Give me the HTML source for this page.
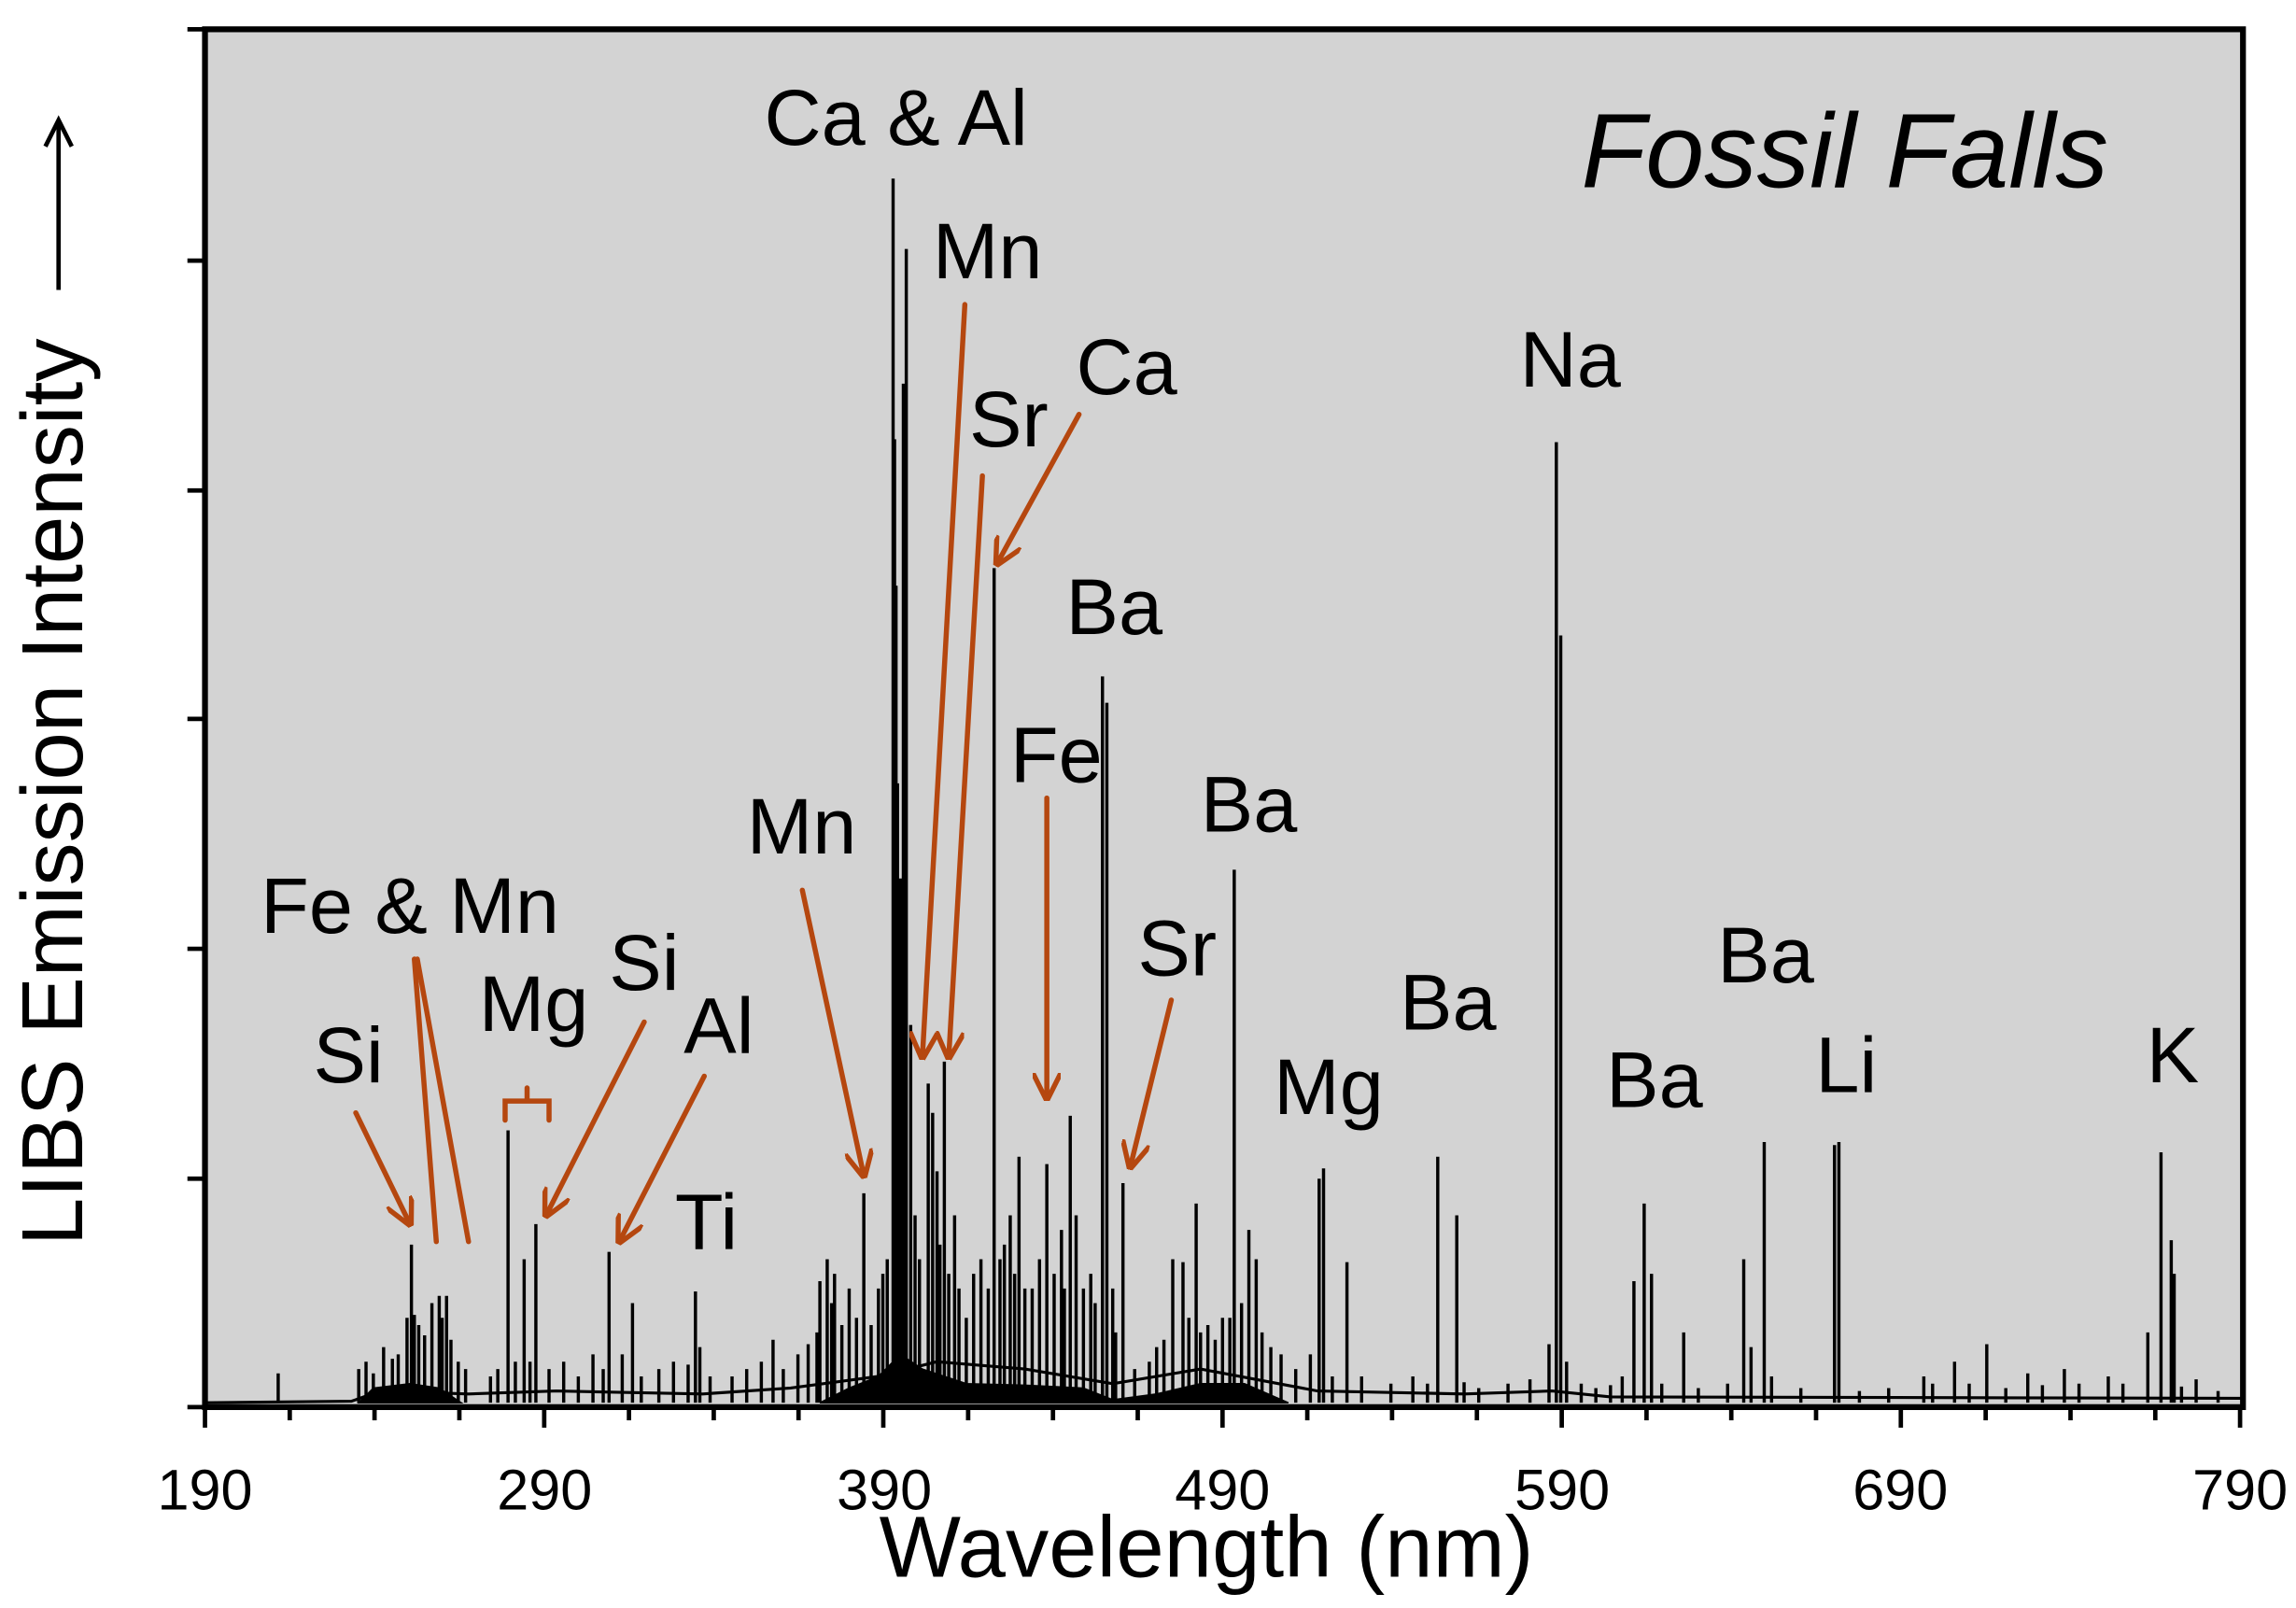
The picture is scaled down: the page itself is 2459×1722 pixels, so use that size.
<!DOCTYPE html>
<html><head><meta charset="utf-8"><style>
html,body{margin:0;padding:0;background:#fff;}
svg{display:block;}
text{font-family:"Liberation Sans",Arial,sans-serif;fill:#000;}
</style></head><body>
<svg width="2459" height="1722" viewBox="0 0 1568.2 1098.2" xmlns="http://www.w3.org/2000/svg">
<defs>
<marker id="ah" viewBox="0 0 10 10" refX="9" refY="5" markerWidth="5.5" markerHeight="5.5" orient="auto" markerUnits="strokeWidth">
<path d="M0,0 L10,5 L0,10" fill="none" stroke="#b5470f" stroke-width="1.8"/>
</marker>
</defs>
<rect x="140" y="20" width="1392" height="941" fill="#d3d3d3"/>
<path fill="#000" stroke="#000" stroke-width="1" d="M245,958 L255,948 L280,945 L300,948 L315,958 Z M560,958 L580,948 L600,940 L615,925 L630,935 L660,945 L700,946 L740,948 L760,956 L790,952 L820,945 L850,945 L880,958 Z"/>
<path fill="none" stroke="#000" stroke-width="2" d="M140,958 L240,957 L260,950 L320,952 L380,950 L480,952 L540,948 L600,940 L640,930 L700,935 L760,945 L820,935 L900,950 L1000,952 L1060,950 L1100,954 L1531,955"/>
<path fill="none" stroke="#000" stroke-width="2.2" d="
M190,958V938 M281,958V850 M283,958V898 M295,958V890 M300,958V885 M305,958V885 M347,958V772 M358,958V860 M366,958V836 M416,958V855 M432,958V890 M475,958V882
M560,958V875 M565,958V860 M590,958V815 M570,958V870 M610,958V122 M611,958V300 M612,958V400 M613,958V535 M615,958V600 M617,958V262 M619,958V170 M622,958V700
M634,958V740 M637,958V760 M640,958V800 M645,958V725 M652,958V830 M679,958V388 M683,958V860 M690,958V830 M696,958V790 M700,958V880 M715,958V795 M725,958V840
M731,958V762 M735,958V830 M745,958V870 M753,958V462 M756,958V480 M760,958V880 M767,958V808 M801,958V860 M808,958V862 M817,958V822 M843,958V594 M853,958V840 M858,958V860
M901,958V805 M904,958V798 M920,958V862 M982,958V790 M995,958V830 M1058,958V918 M1063,958V302 M1066,958V434 M1116,958V875 M1123,958V822 M1128,958V870 M1150,958V910
M1191,958V860 M1205,958V780 M1253,958V782 M1256,958V780 M1314,958V940 M1335,958V930 M1357,958V918 M1385,958V938 M1410,958V935 M1440,958V940 M1467,958V910 M1476,958V787 M1483,958V847 M1485,958V870 M1500,958V942
M245,958V935 M250,958V930 M255,958V938 M262,958V920 M268,958V928 M272,958V925 M278,958V900 M286,958V905 M290,958V912 M302,958V900 M308,958V915 M313,958V930 M318,958V935
M335,958V940 M340,958V935 M352,958V930 M362,958V930 M375,958V935 M385,958V930 M395,958V940 M405,958V925 M412,958V935 M425,958V925 M438,958V940 M450,958V935 M460,958V930 M470,958V932 M478,958V920 M485,958V940
M500,958V940 M510,958V935 M520,958V930 M528,958V915 M535,958V935 M545,958V925 M552,958V918 M558,958V910 M568,958V890 M575,958V905 M580,958V880 M585,958V900 M595,958V905 M600,958V880 M603,958V870 M606,958V860
M625,958V830 M628,958V860 M642,958V850 M648,958V870 M655,958V880 M660,958V900 M665,958V870 M670,958V860 M675,958V880 M686,958V850 M693,958V870 M705,958V880 M710,958V860 M720,958V870 M727,958V880 M740,958V880 M748,958V890 M762,958V910
M775,958V935 M785,958V930 M790,958V920 M795,958V915 M812,958V900 M820,958V910 M825,958V905 M830,958V915 M835,958V900 M840,958V900 M848,958V890 M862,958V910 M868,958V920 M875,958V925 M885,958V935 M895,958V925 M910,958V940 M930,958V940
M950,958V945 M965,958V940 M975,958V945 M1000,958V944 M1010,958V948 M1030,958V945 M1045,958V942 M1070,958V930 M1080,958V945 M1090,958V948 M1100,958V946 M1108,958V940 M1135,958V945 M1160,958V948 M1180,958V945 M1196,958V920 M1210,958V940 M1230,958V948 M1270,958V950 M1290,958V948 M1320,958V945 M1345,958V945 M1370,958V948 M1395,958V946 M1420,958V945 M1450,958V945 M1490,958V947 M1515,958V950"/>
<rect x="140" y="20" width="1392" height="941" fill="none" stroke="#000" stroke-width="4"/>
<path stroke="#000" stroke-width="3" fill="none" d="M140,961V975 M197.9,961V970 M255.8,961V970 M313.75,961V970 M371.7,961V975 M429.6,961V970 M487.5,961V970 M545.4,961V970 M603.3,961V975 M661.25,961V970 M719.2,961V970 M777.1,961V970 M835,961V975 M892.9,961V970 M950.8,961V970 M1008.75,961V970 M1066.7,961V975 M1124.6,961V970 M1182.5,961V970 M1240.4,961V970 M1298.3,961V975 M1356.25,961V970 M1414.2,961V970 M1472.1,961V970 M1530,961V975
M128,20H140 M128,178H140 M128,335H140 M128,491H140 M128,648H140 M128,805H140 M128,961H140"/>
<g font-size="39" text-anchor="middle">
<text x="140" y="1031">190</text><text x="372" y="1031">290</text><text x="604" y="1031">390</text>
<text x="835" y="1031">490</text><text x="1067" y="1031">590</text><text x="1298" y="1031">690</text><text x="1530" y="1031">790</text>
</g>
<text x="824" y="1077" font-size="59" text-anchor="middle">Wavelength (nm)</text>
<text transform="translate(56,541) rotate(-90)" font-size="59" text-anchor="middle">LIBS Emission Intensity</text>
<g stroke="#000" stroke-width="3" fill="none"><line x1="40" y1="198" x2="40" y2="84"/><path d="M31,100 L40,82 L49,100"/></g>
<text x="1080" y="128" font-size="72" font-style="italic">Fossil Falls</text>
<g font-size="54">
<text x="522" y="99">Ca &amp; Al</text><text x="637" y="190">Mn</text><text x="662" y="305">Sr</text>
<text x="735" y="269">Ca</text><text x="1038" y="264">Na</text><text x="728" y="433">Ba</text>
<text x="690" y="534">Fe</text><text x="820" y="568">Ba</text><text x="510" y="583">Mn</text>
<text x="178" y="637">Fe &amp; Mn</text><text x="777" y="666">Sr</text><text x="416" y="676">Si</text>
<text x="327" y="704">Mg</text><text x="467" y="719">Al</text><text x="956" y="703">Ba</text>
<text x="1173" y="671">Ba</text><text x="1097" y="756">Ba</text><text x="1240" y="746">Li</text>
<text x="1466" y="739">K</text><text x="870" y="761">Mg</text><text x="214" y="739">Si</text>
<text x="461" y="853">Ti</text>
</g>
<g stroke="#b5470f" stroke-width="3.5" fill="none" stroke-linecap="round">
<line x1="283" y1="655" x2="298" y2="848"/><line x1="285" y1="655" x2="320" y2="848"/>
<path d="M345,765 L345,752 L375,752 L375,765 M360,752 L360,743"/>
<g marker-end="url(#ah)">
<line x1="243" y1="760" x2="280" y2="836"/>
<line x1="440" y1="698" x2="373" y2="830"/>
<line x1="481" y1="735" x2="423" y2="848"/>
<line x1="548" y1="608" x2="590" y2="803"/>
<line x1="659" y1="208" x2="630" y2="722"/>
<line x1="671" y1="325" x2="648" y2="722"/>
<line x1="737" y1="283" x2="681" y2="385"/>
<line x1="715" y1="545" x2="715" y2="750"/>
<line x1="800" y1="683" x2="772" y2="797"/>
</g>
</g>
</svg>
</body></html>
